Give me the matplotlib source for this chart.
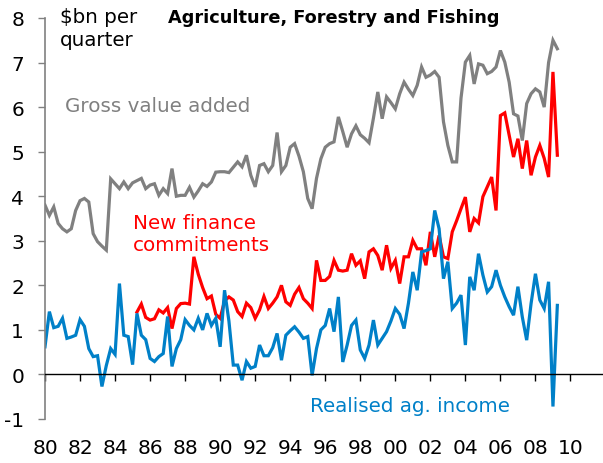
import numpy as np
import matplotlib
matplotlib.use('Agg')
import matplotlib.pyplot as plt

# Quarterly data, $bn per quarter
start_year = 1980.0        # first quarter of gva / income
red_start = 1985.25        # finance commitments start later

gva = [3.8, 3.57, 3.76, 3.39, 3.27, 3.2, 3.27, 3.68, 3.9, 3.95, 3.87, 3.16, 2.98, 2.88, 2.79, 4.39,
       4.28, 4.17, 4.32, 4.17, 4.3, 4.35, 4.4, 4.17, 4.25, 4.28, 4.02, 4.17, 4.06, 4.62, 4.0, 4.02, 4.02, 4.2, 3.98, 4.12,
       4.28, 4.22, 4.32, 4.54, 4.55, 4.55, 4.53, 4.65, 4.77, 4.66, 4.92, 4.47, 4.21, 4.69, 4.73, 4.55, 4.69, 5.43, 4.55, 4.69,
       5.1, 5.18, 4.9, 4.55, 3.95, 3.72, 4.4, 4.84, 5.1, 5.18, 5.22, 5.78, 5.45, 5.1, 5.4, 5.58, 5.38, 5.3, 5.2, 5.75,
       6.34, 5.74, 6.23, 6.1, 5.96, 6.3, 6.56, 6.4, 6.26, 6.49, 6.9, 6.67, 6.72, 6.8, 6.67, 5.67, 5.14, 4.77, 4.77, 6.2,
       7.01, 7.16, 6.52, 6.97, 6.94, 6.75, 6.8, 6.9, 7.27, 7.01, 6.56, 5.85, 5.8, 5.25, 6.08, 6.3, 6.41, 6.34, 6.0, 7.0, 7.5, 7.31]

finance = [1.4, 1.58, 1.28, 1.22, 1.25, 1.45, 1.38, 1.5, 1.03, 1.48, 1.59, 1.6, 1.58, 2.64, 2.25, 1.95, 1.7, 1.76, 1.35, 1.26,
           1.65, 1.74, 1.67, 1.41, 1.3, 1.6, 1.5, 1.26, 1.45, 1.75, 1.48, 1.6, 1.74, 2.0, 1.63, 1.55, 1.8, 1.95, 1.7, 1.6,
           1.48, 2.56, 2.11, 2.11, 2.2, 2.56, 2.34, 2.32, 2.34, 2.71, 2.45, 2.55, 2.15, 2.75, 2.82, 2.67, 2.34, 2.9, 2.38, 2.56,
           2.04, 2.64, 2.64, 3.01, 2.82, 2.82, 2.45, 3.2, 2.64, 3.12, 2.64, 2.6, 3.2, 3.45, 3.72, 3.98, 3.2, 3.5, 3.4, 3.99,
           4.21, 4.43, 3.68, 5.81, 5.87, 5.37, 4.88, 5.29, 4.62, 5.25, 4.47, 4.88, 5.14, 4.85, 4.43, 6.79, 4.92]

income = [0.62, 1.41, 1.05, 1.08, 1.26, 0.81, 0.84, 0.88, 1.23, 1.08, 0.58, 0.4, 0.42, -0.27, 0.2, 0.58, 0.45, 2.04, 0.88, 0.85,
          0.22, 1.37, 0.88, 0.78, 0.36, 0.29, 0.4, 0.47, 1.3, 0.18, 0.58, 0.78, 1.23, 1.1, 1.0, 1.26, 1.0, 1.37, 1.1, 1.26,
          0.62, 1.89, 1.2, 0.21, 0.21, -0.13, 0.29, 0.14, 0.18, 0.66, 0.42, 0.42, 0.6, 0.92, 0.32, 0.88, 0.98, 1.07, 0.95, 0.81,
          0.85, -0.02, 0.58, 1.0, 1.1, 1.48, 0.96, 1.74, 0.28, 0.66, 1.1, 1.22, 0.55, 0.36, 0.66, 1.22, 0.66, 0.81, 0.96, 1.2,
          1.48, 1.35, 1.03, 1.6, 2.3, 1.89, 2.75, 2.78, 2.82, 3.68, 3.27, 2.15, 2.53, 1.48, 1.6, 1.78, 0.66, 2.19, 1.89, 2.71,
          2.23, 1.85, 1.97, 2.34, 2.0, 1.74, 1.52, 1.33, 1.97, 1.29, 0.77, 1.59, 2.26, 1.67, 1.48, 2.08, -0.72, 1.55]

tick_years = list(range(1980, 2011, 2))
tick_labels = ['%02d' % (y % 100) for y in tick_years]
y_ticks = list(range(-1, 9))

x_main = start_year + np.arange(len(gva)) / 4
x_fin = red_start + np.arange(len(finance)) / 4

W, H = 603, 464
fig = plt.figure(figsize=(W / 100, H / 100), dpi=100)
# axes placed in pixels: left 45, right 602, top 19, bottom 420
ax = fig.add_axes([45 / W, 1 - 420 / H, 557 / W, 401 / H])

ax.plot(x_main, gva, color='#808080', lw=2.3, solid_joinstyle='miter')
ax.plot(x_fin, finance, color='#ff0000', lw=2.3, solid_joinstyle='miter')
ax.plot(x_main, income, color='#0080c8', lw=2.3, solid_joinstyle='miter')

ax.set_xlim(1980, 2011.8)
ax.set_ylim(-1, 8)

for s in ['top', 'right']:
    ax.spines[s].set_visible(False)
ax.spines['left'].set_color('#808080')
ax.spines['left'].set_linewidth(1.2)
ax.spines['bottom'].set_position(('data', 0))
ax.spines['bottom'].set_color('black')
ax.spines['bottom'].set_linewidth(1.0)

ax.set_yticks(y_ticks)
ax.set_yticklabels([str(v) for v in y_ticks])
ax.set_xticks(tick_years)
ax.set_xticklabels(tick_labels)
ax.tick_params(axis='y', direction='out', length=5, width=1, color='#808080', pad=10, labelsize=14.5)
ax.tick_params(axis='x', direction='out', length=5, width=1, color='black', pad=41, labelsize=14.5)

def px(x, y):
    return x / W, 1 - y / H

fig.text(*px(60, 8), '$bn per\nquarter', fontsize=14.3, va='top', ha='left', linespacing=1.3)
fig.text(*px(168, 18), 'Agriculture, Forestry and Fishing', fontsize=12.8, fontweight='bold', va='center', ha='left')
fig.text(*px(65, 107), 'Gross value added', fontsize=14.3, color='#808080', va='center', ha='left')
fig.text(*px(133, 235), 'New finance\ncommitments', fontsize=14.3, color='#ff0000', va='center', ha='left', linespacing=1.2)
fig.text(*px(310, 407), 'Realised ag. income', fontsize=14.3, color='#0080c8', va='center', ha='left')

fig.savefig('out.png', dpi=100)
